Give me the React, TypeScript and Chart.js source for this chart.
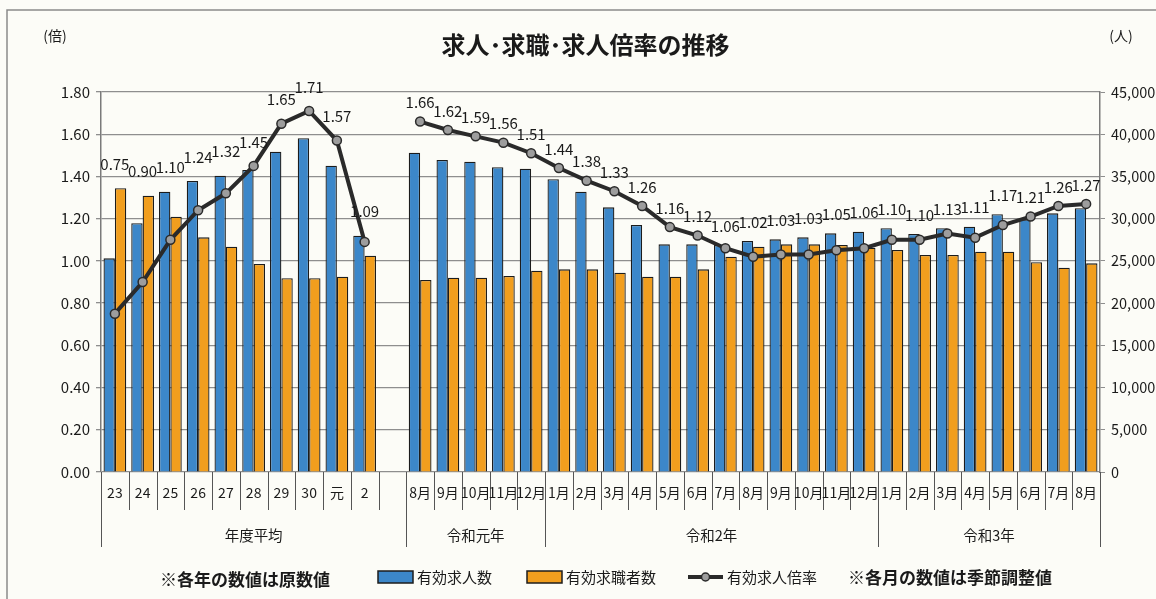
import React, { useEffect, useRef } from 'react';
import { Chart, registerables } from 'chart.js';
Chart.register(...registerables);

const titleText = '求人･求職･求人倍率の推移';
const leftUnit = '(倍)';
const rightUnit = '(人)';
const seriesNames = ['有効求人数', '有効求職者数', '有効求人倍率'];
const notes = ['※各年の数値は原数値', '※各月の数値は季節調整値'];

const yearLabels = ['23', '24', '25', '26', '27', '28', '29', '30', '元', '2'];
const monthLabels = [
  '8月', '9月', '10月', '11月', '12月',
  '1月', '2月', '3月', '4月', '5月', '6月', '7月', '8月', '9月', '10月', '11月', '12月',
  '1月', '2月', '3月', '4月', '5月', '6月', '7月', '8月',
];
const groupLabels = ['年度平均', '令和元年', '令和2年', '令和3年'];
const groupSpans = [11, 5, 12, 8];

const yearOffers = [25300, 29450, 33200, 34460, 35090, 35760, 37930, 39520, 36280, 27990];
const yearSeekers = [33600, 32720, 30240, 27790, 26680, 24630, 22940, 22940, 23130, 25620];
const yearRatio = [0.75, 0.9, 1.1, 1.24, 1.32, 1.45, 1.65, 1.71, 1.57, 1.09];

const monthOffers = [
  37820, 36950, 36750, 36080, 35920,
  34660, 33200, 31340, 29250, 26960, 26960, 26880, 27360, 27550, 27790, 28260, 28460,
  28860, 28180, 28860, 29050, 30520, 29920, 30630, 31230,
];
const monthSeekers = [
  22740, 23010, 23010, 23210, 23840,
  24000, 24000, 23600, 23130, 23130, 24000, 25500, 26680, 26960, 26960, 26880, 26560,
  26290, 25700, 25700, 26090, 26090, 24830, 24190, 24710,
];
const monthRatio = [
  1.66, 1.62, 1.59, 1.56, 1.51,
  1.44, 1.38, 1.33, 1.26, 1.16, 1.12, 1.06, 1.02, 1.03, 1.03, 1.05, 1.06,
  1.1, 1.1, 1.13, 1.11, 1.17, 1.21, 1.26, 1.27,
];

const BLUE = '#3c87c9';
const ORANGE = '#f19e1e';
const EDGE = '#1c1c1c';
const LINE = '#2a2a2a';
const GRID = '#8e8e8e';
const BG = '#fcfcf7';
const TEXT = '#1a1a1a';
const FONT = '"Noto Sans CJK JP", "Noto Sans", sans-serif';

export default function App() {
  const ref = useRef<HTMLCanvasElement | null>(null);

  useEffect(() => {
    const labels = [...yearLabels, '', ...monthLabels];
    const offers = [...yearOffers, null, ...monthOffers];
    const seekers = [...yearSeekers, null, ...monthSeekers];
    const ratio = [...yearRatio, null, ...monthRatio];

    const decor = {
      id: 'decor',
      beforeDraw(chart: any) {
        const ctx = chart.ctx;
        ctx.save();
        ctx.fillStyle = BG;
        ctx.fillRect(0, 0, chart.width, chart.height);
        ctx.strokeStyle = '#8a8a8a';
        ctx.lineWidth = 1.5;
        ctx.beginPath();
        ctx.moveTo(7, chart.height + 2);
        ctx.lineTo(7, 10);
        ctx.lineTo(chart.width + 2, 10);
        ctx.stroke();
        ctx.restore();
      },
      afterDraw(chart: any) {
        const ctx = chart.ctx;
        const area = chart.chartArea;
        const xs = chart.scales.x;
        const n = labels.length;
        const cw = (area.right - area.left) / n;
        ctx.save();
        ctx.fillStyle = TEXT;
        ctx.textAlign = 'center';
        ctx.textBaseline = 'middle';

        // title & units
        ctx.font = `bold 24px ${FONT}`;
        ctx.fillText(titleText, (area.left + area.right) / 2 - 15, 45);
        ctx.font = `14px ${FONT}`;
        ctx.fillText(leftUnit, 55, 36);
        ctx.fillText(rightUnit, 1121, 36);

        // data labels for ratio line
        const lineMeta = chart.getDatasetMeta(0);
        const b1 = chart.getDatasetMeta(1);
        const b2 = chart.getDatasetMeta(2);
        ctx.font = `15px ${FONT}`;
        ratio.forEach((v, i) => {
          if (v == null) return;
          const p = lineMeta.data[i];
          const top = Math.min(p.y, b1.data[i].y, b2.data[i].y);
          const off = i < yearLabels.length ? 24 : 19;
          ctx.fillText(v.toFixed(2), p.x, top - off);
        });

        // x-axis: separators and labels
        const yTop = area.bottom;
        const yShort = yTop + 38;
        const yLong = yTop + 75;
        const longIdx = new Set<number>();
        let acc = 0;
        longIdx.add(0);
        groupSpans.forEach((s) => { acc += s; longIdx.add(acc); });
        ctx.strokeStyle = '#555';
        ctx.lineWidth = 1;
        for (let k = 0; k <= n; k++) {
          const x = Math.round(area.left + k * cw) + 0.5;
          ctx.beginPath();
          ctx.moveTo(x, yTop);
          ctx.lineTo(x, longIdx.has(k) ? yLong : yShort);
          ctx.stroke();
        }
        ctx.font = `14px ${FONT}`;
        labels.forEach((l, i) => {
          if (!l) return;
          ctx.fillText(l, xs.getPixelForValue(i), yTop + 21);
        });
        ctx.font = `14.5px ${FONT}`;
        let start = 0;
        groupLabels.forEach((g, gi) => {
          const x0 = area.left + start * cw;
          const x1 = area.left + (start + groupSpans[gi]) * cw;
          ctx.fillText(g, (x0 + x1) / 2, yTop + 63);
          start += groupSpans[gi];
        });

        // legend
        const ly = 577;
        ctx.font = `15px ${FONT}`;
        ctx.textAlign = 'left';
        let lx = 378;
        const sw = 35;
        [BLUE, ORANGE].forEach((c, i) => {
          ctx.fillStyle = c;
          ctx.fillRect(lx, ly - 6, sw, 12);
          ctx.strokeStyle = EDGE;
          ctx.lineWidth = 1.5;
          ctx.strokeRect(lx, ly - 6, sw, 12);
          ctx.fillStyle = TEXT;
          ctx.fillText(seriesNames[i], lx + sw + 4, ly);
          lx += sw + 4 + ctx.measureText(seriesNames[i]).width + 35;
        });
        lx -= 3;
        ctx.strokeStyle = LINE;
        ctx.lineWidth = 4;
        ctx.beginPath();
        ctx.moveTo(lx, ly);
        ctx.lineTo(lx + sw, ly);
        ctx.stroke();
        ctx.beginPath();
        ctx.arc(lx + sw / 2, ly, 4, 0, Math.PI * 2);
        ctx.fillStyle = '#9d9d9d';
        ctx.fill();
        ctx.lineWidth = 1.5;
        ctx.stroke();
        ctx.fillStyle = TEXT;
        ctx.fillText(seriesNames[2], lx + sw + 4, ly);

        // notes
        ctx.textAlign = 'center';
        ctx.font = `bold 17px ${FONT}`;
        ctx.fillText(notes[0], 245, 580);
        ctx.fillText(notes[1], 950, 578);
        ctx.restore();
      },
    };

    const chart = new Chart(ref.current as HTMLCanvasElement, {
      type: 'bar',
      data: {
        labels,
        datasets: [
          {
            type: 'line',
            label: seriesNames[2],
            data: ratio,
            yAxisID: 'y',
            borderColor: LINE,
            borderWidth: 4,
            pointRadius: 4.5,
            pointBackgroundColor: '#9d9d9d',
            pointBorderColor: LINE,
            pointBorderWidth: 1.5,
            spanGaps: false,
            tension: 0,
            order: 0,
          } as any,
          {
            type: 'bar',
            label: seriesNames[0],
            data: offers,
            yAxisID: 'y1',
            backgroundColor: BLUE,
            borderColor: EDGE,
            borderWidth: 1.3,
            categoryPercentage: 0.82,
            barPercentage: 1,
            order: 1,
          },
          {
            type: 'bar',
            label: seriesNames[1],
            data: seekers,
            yAxisID: 'y1',
            backgroundColor: ORANGE,
            borderColor: EDGE,
            borderWidth: 1.3,
            categoryPercentage: 0.82,
            barPercentage: 1,
            order: 1,
          },
        ],
      },
      options: {
        responsive: false,
        animation: false,
        locale: 'en-US',
        layout: { padding: { top: 92, bottom: 127, left: 0, right: 0 } },
        plugins: { legend: { display: false }, tooltip: { enabled: false }, title: { display: false } },
        scales: {
          x: { type: 'category', display: false, offset: true },
          y: {
            position: 'left',
            min: 0,
            max: 1.8,
            afterFit: (s: any) => { s.width = 101; },
            ticks: {
              stepSize: 0.2,
              padding: 6,
              color: TEXT,
              font: { family: FONT, size: 15 },
              callback: (v: any) => Number(v).toFixed(2),
            },
            grid: { color: GRID, lineWidth: 1.3, tickLength: 5, drawTicks: true },
            border: { display: true, color: '#7a7a7a', width: 1.5 },
          },
          y1: {
            position: 'right',
            min: 0,
            max: 45000,
            afterFit: (s: any) => { s.width = 56; },
            ticks: {
              stepSize: 5000,
              padding: 6,
              color: TEXT,
              font: { family: FONT, size: 14.5 },
            },
            grid: { drawOnChartArea: false, color: GRID, tickLength: 5 },
            border: { display: true, color: '#7a7a7a', width: 1.5 },
          },
        },
      },
      plugins: [decor],
    });
    return () => chart.destroy();
  }, []);

  return (
    <div style={{ position: 'fixed', left: 0, top: 0, width: 1156, height: 599, background: BG }}>
      <canvas ref={ref} width={1156} height={599} style={{ display: 'block' }} />
    </div>
  );
}
